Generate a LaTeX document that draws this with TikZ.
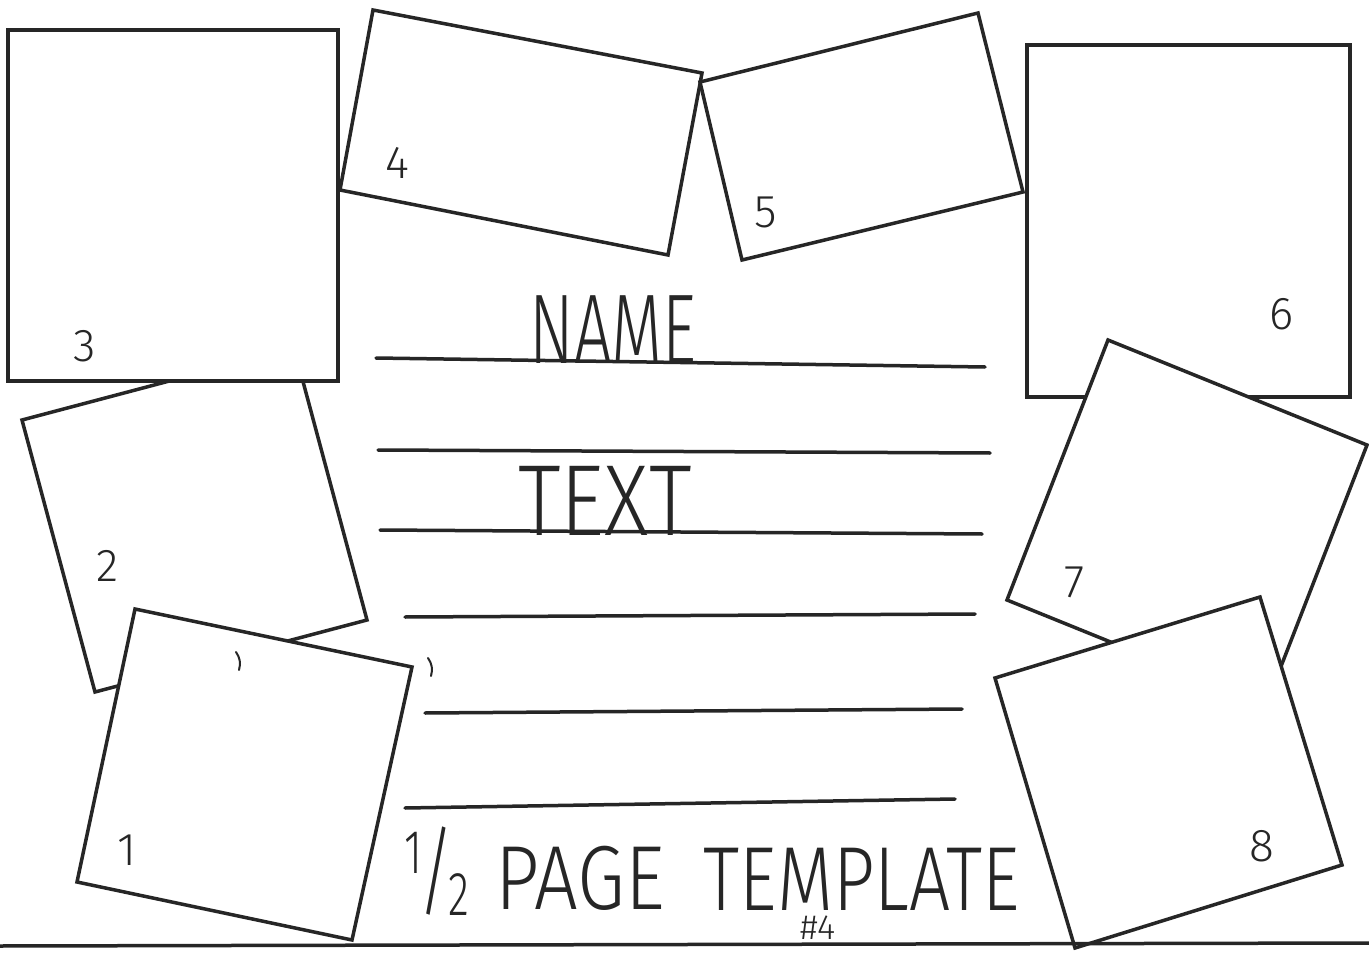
\documentclass[tikz,border=0pt]{standalone}
\usepackage{fontspec}
\newfontfamily\handfont{Fira Sans}[UprightFont={* Light}]
\usetikzlibrary{positioning}
\definecolor{ink}{HTML}{262626}
\tikzset{
  card/.style={draw=ink, fill=white, line width=3.5pt, line join=miter},
  writeline/.style={draw=ink, line width=3.5pt, line cap=round},
  num/.style={text=ink, inner sep=0pt, font=\handfont\fontsize{46}{46}\selectfont},
  big/.style={text=ink, inner sep=0pt, anchor=base, transform shape},
}
\begin{document}
\begin{tikzpicture}[x=1pt, y=-1pt]
  \fill[white] (0,0) rectangle (1369,955);
  \useasboundingbox (0,0) rectangle (1369,955);

  % photo cards, back to front
  \draw[card] (22,420) -- (294,348) -- (367,620) -- (95,692) -- cycle;
  \draw[card] (8,30) -- (338,30) -- (338,381) -- (8,381) -- cycle;
  \draw[card] (135,609) -- (412,667) -- (352,940) -- (77,882) -- cycle;
  \draw[card] (373,10) -- (702,73) -- (668,255) -- (340,190) -- cycle;
  \draw[card] (700,82) -- (978,13) -- (1023,192) -- (742,260) -- cycle;
  \draw[card] (1027,45) -- (1350,45) -- (1350,397) -- (1027,397) -- cycle;
  \draw[card] (1108,340) -- (1367,445) -- (1266,705) -- (1007,600) -- cycle;
  \draw[card] (995,678) -- (1260,597) -- (1342,865) -- (1075,948) -- cycle;

  \node[num] (n1) at (127,850) {1};
  \node[num] (n2) at (108,566) {2};
  \node[num] (n3) at (85,346) {3};
  \node[num] (n4) at (397,163) {4};
  \node[num] (n5) at (766,212) {5};
  \node[num] (n6) at (1282,314) {6};
  \node[num] (n7) at (1075,582) {7};
  \node[num] (n8) at (1262,846) {8};

  % lines to write on
  \draw[writeline] (376,358) -- (985,367);
  \draw[writeline] (378,450) -- (990,453);
  \draw[writeline] (380,530) -- (982,534);
  \draw[writeline] (405,617) -- (975,614);
  \draw[writeline] (425,713) -- (962,709);
  \draw[writeline] (405,808) -- (955,799);
  \draw[writeline] (0,946) -- (1369,943);

  % stray pen marks
  \draw[ink, line width=2pt, line cap=round] (236,652) to[bend left=25] (239,670);
  \draw[ink, line width=2pt, line cap=round] (428,658) to[bend left=25] (431,676);

  \node[big, xscale=0.67, font=\handfont\fontsize{99}{99}\selectfont] (name) at (613,363) {NAME};
  \node[big, xscale=0.85, font=\handfont\fontsize{101}{101}\selectfont] (text) at (605,535) {TEXT};
  \node[big, xscale=0.7, font=\handfont\fontsize{62}{62}\selectfont] (half) at (437,905)
    {\raisebox{32pt}{1}\kern-6pt{\fontsize{98}{98}\selectfont/}\kern-8pt\raisebox{-10pt}{2}};
  \node[big, xscale=0.85, font=\handfont\fontsize{91}{91}\selectfont] (page) at (580,909) {PAGE};
  \node[big, xscale=0.8, font=\handfont\fontsize{91}{91}\selectfont] (tmpl) at (862,910) {TEMPLATE};
  \node[big, font=\handfont\fontsize{35}{35}\selectfont] (issue) at (818,939) {\#4};
\end{tikzpicture}
\end{document}
